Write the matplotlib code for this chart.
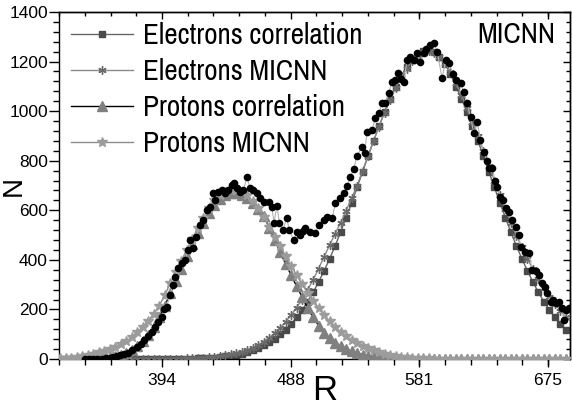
import matplotlib

matplotlib.use("Agg")

import matplotlib.pyplot as plt
import numpy as np
from matplotlib.ticker import AutoMinorLocator, FixedLocator

# {{{ data

# model curves are sampled every 4 units of R (320 ... 688)
R = np.arange(320, 689, 4)

ELECTRONS_CORR = [
    0, 0, 0, 0, 0, 0, 0, 0, 0, 0,
    0, 0, 0, 0, 0, 0, 0, 0, 0, 0,
    0, 0, 1, 2, 2, 3, 4, 5, 6, 8,
    11, 14, 18, 22, 28, 36, 44, 55, 67, 82,
    99, 119, 142, 168, 198, 232, 269, 311, 356, 404,
    456, 512, 570, 630, 692, 755, 818, 880, 940, 997,
    1050, 1099, 1142, 1178, 1207, 1228, 1241, 1245, 1238, 1220,
    1190, 1150, 1099, 1050, 997, 940, 880, 818, 755, 692,
    630, 570, 512, 456, 404, 356, 311, 269, 232, 198,
    168, 142, 119,
]

ELECTRONS_MICNN = [
    0, 0, 0, 0, 0, 0, 0, 0, 0, 0,
    0, 0, 0, 0, 0, 0, 0, 1, 1, 1,
    1, 2, 2, 3, 4, 5, 6, 8, 10, 12,
    15, 19, 23, 29, 36, 45, 56, 70, 86, 104,
    125, 150, 177, 207, 240, 278, 320, 365, 412, 460,
    505, 550, 598, 648, 700, 760, 820, 880, 938, 993,
    1045, 1092, 1135, 1172, 1202, 1224, 1238, 1242, 1236, 1220,
    1193, 1158, 1112, 1064, 1012, 958, 900, 840, 780, 720,
    660, 605, 550, 498, 450, 405, 362, 322, 286, 252,
    222, 195, 170,
]

PROTONS_CORR = [
    0, 0, 0, 0, 0, 0, 1, 2, 4, 7,
    11, 17, 25, 36, 52, 72, 98, 130, 170, 215,
    265, 315, 365, 414, 462, 508, 550, 590, 622, 646,
    660, 668, 668, 662, 650, 630, 605, 578, 530, 480,
    430, 384, 338, 294, 250, 206, 168, 135, 106, 84,
    66, 52, 40, 31, 24, 18, 13, 10, 7, 5,
    4, 3, 2, 1, 1, 0, 0, 0, 0, 0,
    0, 0, 0, 0, 0, 0, 0, 0, 0, 0,
    0, 0, 0, 0, 0, 0, 0, 0, 0, 0,
    0, 0, 0,
]

PROTONS_MICNN = [
    3, 4, 6, 8, 12, 16, 21, 27, 34, 42,
    50, 60, 72, 88, 108, 131, 155, 182, 215, 258,
    305, 350, 395, 440, 485, 528, 570, 610, 640, 662,
    675, 680, 680, 674, 660, 638, 608, 572, 532, 492,
    455, 415, 376, 338, 302, 268, 236, 206, 178, 152,
    130, 110, 92, 77, 64, 53, 43, 35, 28, 22,
    17, 13, 10, 8, 6, 5, 4, 3, 2, 1,
    1, 1, 1, 1, 1, 1, 1, 1, 1, 1,
    1, 1, 1, 1, 1, 1, 1, 1, 1, 1,
    1, 1, 1,
]

# measured spectrum (black dots)
DOT_R = [
    338, 341, 344, 347, 350, 353, 356, 358.6, 361, 363.5,
    366.5, 369.5, 372.5, 375.6, 378.5, 381.2, 384, 386.6, 389, 391.4,
    393.9, 395.5, 397.5, 399.9, 401.7, 403.5, 405.9, 408.2, 410.8, 413,
    414.5, 416.9, 418.5, 421.8, 424.2, 426.7, 429, 430.8, 432.7, 435.1,
    437.6, 439.9, 442.4, 444.9, 446.5, 448.5, 450.9, 453.3, 455.8, 458.2,
    460.6, 463.1, 465.5, 468.5, 471.6, 474, 475.5, 477.7, 479.5, 482,
    484.9, 486.5, 489.8, 492.2, 494.7, 497, 498.3, 501.9, 505.6, 508,
    511.6, 514.1, 517.8, 520.2, 523.8, 526.2, 528.7, 531, 533.5, 536,
    539.6, 541.5, 543.3, 546.9, 549.3, 551.8, 554.2, 556.6, 559, 561.5,
    563.5, 565.8, 568, 570, 572.4, 574.8, 577.3, 579.7, 582, 584.5,
    586.5, 589, 591.8, 594.3, 597.9, 600.5, 603, 605.8, 608, 611.3,
    613.7, 616.1, 618.6, 621, 623.5, 625.8, 628.3, 630.5, 631.9, 634.4,
    636.5, 638, 640.4, 642.5, 644.1, 646.5, 649, 651.4, 653.8, 655,
    658.6, 661.1, 663.5, 666, 668.4, 670.8, 672.5, 674.5, 676.9, 678.5,
    680.5, 682.9, 685.4, 686.6, 687.8, 690,
]
DOT_N = [
    0, 0, 1, 1, 2, 4, 6, 9, 12, 16,
    20, 26, 38, 50, 62, 77, 92, 107, 130, 151,
    170, 200, 211, 258, 300, 332, 366, 386, 399, 440,
    480, 446, 493, 540, 561, 601, 614, 668, 641, 675,
    682, 668, 682, 702, 709, 689, 675, 682, 733, 689,
    682, 668, 650, 632, 635, 614, 550, 618, 547, 520,
    570, 520, 480, 514, 500, 515, 527, 514, 507, 541,
    561, 574, 567, 628, 648, 668, 700, 735, 766, 820,
    856, 830, 917, 924, 971, 991, 1031, 1031, 1072, 1119,
    1125, 1152, 1130, 1119, 1206, 1220, 1206, 1233, 1200, 1233,
    1250, 1267, 1274, 1240, 1132, 1206, 1193, 1150, 1125, 1115,
    1078, 1031, 977, 910, 957, 883, 836, 800, 769, 769,
    720, 695, 655, 640, 608, 594, 560, 534, 500, 453,
    433, 426, 359, 355, 339, 305, 290, 265, 231, 240,
    225, 231, 205, 157, 198, 205,
]

X_TICKS = [394, 487.67, 581.33, 675]
X_TICK_LABELS = ["394", "488", "581", "675"]
Y_TICKS = [0, 200, 400, 600, 800, 1000, 1200, 1400]

# }}}

# NOTE: the original uses a narrow Arial-like face for legend and tag
NARROW = {"family": ["Archivo Narrow", "PT Sans Narrow", "Liberation Sans"],
          "size": 21}


def main() -> None:
    plt.rcParams["font.family"] = ["Liberation Sans", "DejaVu Sans"]

    fig = plt.figure(figsize=(5.72, 4.09), dpi=100)
    ax = fig.add_axes([0.1031, 0.1222, 0.8934, 0.8485])

    ax.plot(R, ELECTRONS_CORR, "-s", color="#666666", lw=1.0,
            mfc="#4a4a4a", mec="#4a4a4a", ms=5, label="Electrons correlation",
            zorder=2)
    ax.plot(R, ELECTRONS_MICNN, "-", marker=(6, 2, 0), color="#8a8a8a", lw=1.0,
            mfc="#6a6a6a", mec="#6a6a6a", ms=6, mew=1.0,
            label="Electrons MICNN", zorder=3)
    ax.plot(R, PROTONS_CORR, "-^", color="black", lw=1.0,
            mfc="#808080", mec="#808080", ms=7, label="Protons correlation",
            zorder=4)
    ax.plot(R, PROTONS_MICNN, "-*", color="#8c8c8c", lw=1.0,
            mfc="#9c9c9c", mec="#9c9c9c", ms=7, label="Protons MICNN",
            zorder=5)

    ax.plot(DOT_R, DOT_N, "-", color="#b4b4b4", lw=0.8, zorder=6)
    ax.plot(DOT_R, DOT_N, "o", color="black", ms=5.5, mew=0, zorder=7)

    ax.set_xlim(319, 691)
    ax.set_ylim(0, 1400)

    ax.xaxis.set_major_locator(FixedLocator(X_TICKS))
    ax.set_xticklabels(X_TICK_LABELS)
    ax.xaxis.set_minor_locator(AutoMinorLocator(5))
    ax.yaxis.set_major_locator(FixedLocator(Y_TICKS))
    ax.yaxis.set_minor_locator(AutoMinorLocator(5))

    ax.tick_params(which="both", direction="out", width=1.0, labelsize=12.5,
                   colors="black")
    ax.tick_params(axis="y", which="major", length=7, pad=1)
    ax.tick_params(axis="y", which="minor", length=4)
    ax.tick_params(axis="x", which="major", length=6, pad=4)
    ax.tick_params(axis="x", which="minor", length=4)

    top = ax.secondary_xaxis("top")
    top.xaxis.set_major_locator(FixedLocator(X_TICKS))
    top.xaxis.set_minor_locator(AutoMinorLocator(5))
    top.tick_params(which="both", direction="in", labeltop=False, width=1.0)
    top.tick_params(which="major", length=5)
    top.tick_params(which="minor", length=3)

    right = ax.secondary_yaxis("right")
    right.yaxis.set_major_locator(FixedLocator(Y_TICKS))
    right.yaxis.set_minor_locator(AutoMinorLocator(5))
    right.tick_params(which="both", direction="in", labelright=False, width=1.0)
    right.tick_params(which="major", length=5)
    right.tick_params(which="minor", length=3)

    for sp in list(ax.spines.values()) + [top.spines["top"], right.spines["right"]]:
        sp.set_linewidth(1.0)
        sp.set_color("black")

    ax.set_xlabel("R", fontsize=25)
    ax.xaxis.set_label_coords(0.52, -0.092)
    ax.xaxis.label.set_va("center")
    ax.set_ylabel("N", fontsize=20)
    ax.yaxis.set_label_coords(-0.088, 0.5)
    ax.yaxis.label.set_va("center")

    ax.text(0.894, 0.935, "MICNN", transform=ax.transAxes, ha="center",
            va="center", fontdict=NARROW)

    ax.legend(loc="upper left", bbox_to_anchor=(0.0235, 0.971), frameon=False,
              borderpad=0, borderaxespad=0, handlelength=2.12,
              handletextpad=0.34, labelspacing=0.31, numpoints=1,
              prop=NARROW)

    fig.savefig("out.png", dpi=100)
    plt.close(fig)


if __name__ == "__main__":
    main()
